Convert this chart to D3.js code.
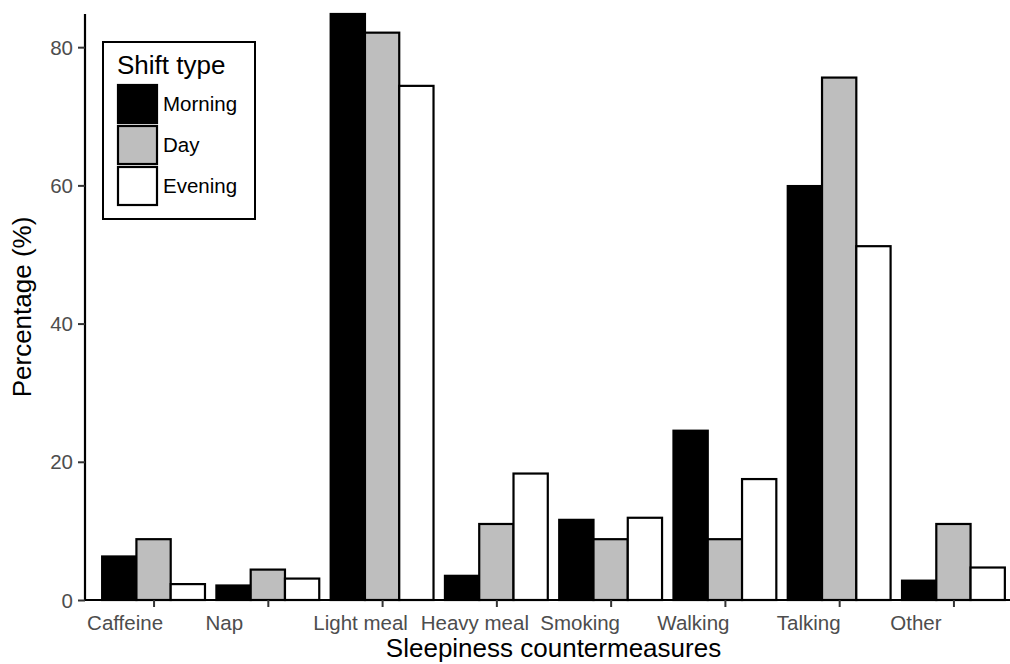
<!DOCTYPE html>
<html>
<head>
<meta charset="utf-8">
<script src="https://cdn.jsdelivr.net/npm/d3@7"></script>
<style>
  html, body { margin: 0; padding: 0; background: #fff; }
  svg { display: block; font-family: "Liberation Sans", Arial, sans-serif; }
</style>
</head>
<body>
<svg id="chart" width="1010" height="664"></svg>
<script>
// Share of workers using each countermeasure, by shift type (%)
const categories = ["Caffeine", "Nap", "Light meal", "Heavy meal", "Smoking", "Walking", "Talking", "Other"];
const shifts = ["Morning", "Day", "Evening"];
const morning = [6.3, 2.1, 84.8, 3.5, 11.6, 24.5, 59.9, 2.8];
const day     = [8.8, 4.4, 82.1, 11.0, 8.8, 8.8, 75.6, 11.0];
const evening = [2.3, 3.1, 74.4, 18.3, 11.9, 17.5, 51.2, 4.7];
const yTicks = [0, 20, 40, 60, 80];
const fills = ["#000000", "#bebebe", "#ffffff"];

// horizontal nudge of each category label relative to its tick (px)
const tickLabelNudge = [-29, -44, -22, -22, -31, -32, -31, -38];

const series = [morning, day, evening];
const rows = [];
categories.forEach((c, i) => shifts.forEach((s, j) => rows.push({ cat: c, shift: s, value: series[j][i] })));

const svg = d3.select("#chart");
const plotLeft = 85, plotBottom = 600, plotTop = 14, plotRight = 1022;

const x = d3.scalePoint().domain(categories).range([plotLeft, plotRight]).padding(0.6);
const step = x.step();
const xs = d3.scaleBand().domain(shifts).range([-0.45 * step, 0.45 * step]).padding(0);
const y = d3.scaleLinear().domain([0, d3.max(rows, d => d.value)]).range([plotBottom, plotTop]);
const color = d3.scaleOrdinal().domain(shifts).range(fills);

// bars
svg.append("g").selectAll("rect").data(rows).join("rect")
  .attr("x", d => x(d.cat) + xs(d.shift))
  .attr("y", d => y(d.value))
  .attr("width", xs.bandwidth())
  .attr("height", d => y(0) - y(d.value))
  .attr("fill", d => color(d.shift))
  .attr("stroke", "#000")
  .attr("stroke-width", 2.2);

// y axis
const yAxis = svg.append("g").attr("transform", `translate(${plotLeft},0)`)
  .call(d3.axisLeft(y).tickValues(yTicks).tickSize(7).tickPadding(5));
yAxis.select(".domain").attr("stroke", "#000").attr("stroke-width", 2.2)
  .attr("d", `M0,${plotBottom}V${plotTop}`);
yAxis.selectAll(".tick line").attr("stroke", "#333").attr("stroke-width", 2);
yAxis.selectAll(".tick text").attr("fill", "#4d4d4d").style("font-size", "20.5px")
  .attr("dy", "0.35em");

// x axis
const xAxis = svg.append("g").attr("transform", `translate(0,${plotBottom})`)
  .call(d3.axisBottom(x).tickSize(7).tickPadding(8));
xAxis.select(".domain").attr("stroke", "#000").attr("stroke-width", 2.2)
  .attr("d", `M${plotLeft},0H${plotRight}`);
xAxis.selectAll(".tick line").attr("stroke", "#333").attr("stroke-width", 2);
xAxis.selectAll(".tick text").attr("fill", "#4d4d4d").style("font-size", "20.5px")
  .attr("dy", "0.71em")
  .attr("x", (d, i) => tickLabelNudge[i]);

// axis titles
svg.append("text").attr("x", (plotLeft + plotRight) / 2).attr("y", 657)
  .attr("text-anchor", "middle").style("font-size", "26px").attr("fill", "#000")
  .text("Sleepiness countermeasures");
svg.append("text").attr("transform", `translate(31,${(plotTop + plotBottom) / 2}) rotate(-90)`)
  .attr("text-anchor", "middle").style("font-size", "26px").attr("fill", "#000")
  .text("Percentage (%)");

// legend
const lg = svg.append("g").attr("transform", "translate(103,42)");
lg.append("rect").attr("width", 152).attr("height", 177)
  .attr("fill", "#fff").attr("stroke", "#000").attr("stroke-width", 2);
lg.append("text").attr("x", 14).attr("y", 32).style("font-size", "26px").attr("fill", "#000")
  .text("Shift type");
const keyH = 41;
shifts.forEach((s, j) => {
  const ky = 43 + j * keyH;
  lg.append("rect").attr("x", 15).attr("y", ky).attr("width", 39).attr("height", 38)
    .attr("fill", color(s)).attr("stroke", "#000").attr("stroke-width", 2.2);
  lg.append("text").attr("x", 60).attr("y", ky + 19).attr("dy", "0.35em")
    .style("font-size", "20.5px").attr("fill", "#000").text(s);
});
</script>
</body>
</html>
